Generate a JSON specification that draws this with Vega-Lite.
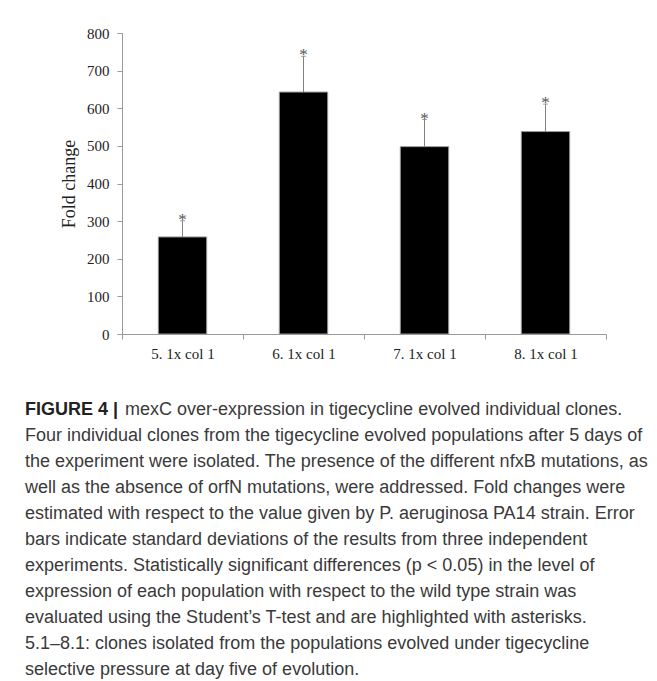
{
  "$schema": "https://vega.github.io/schema/vega-lite/v6.json",
  "width": 484,
  "height": 301,
  "autosize": {"type": "none"},
  "padding": {"left": 122, "top": 33, "right": 51, "bottom": 347},
  "background": "white",
  "data": {
    "values": [
      {"clone": "5. 1x col 1", "fold": 258, "upper": 301, "sig": "*"},
      {"clone": "6. 1x col 1", "fold": 643, "upper": 738, "sig": "*"},
      {"clone": "7. 1x col 1", "fold": 498, "upper": 570, "sig": "*"},
      {"clone": "8. 1x col 1", "fold": 538, "upper": 611, "sig": "*"}
    ]
  },
  "encoding": {
    "x": {
      "field": "clone",
      "type": "nominal",
      "sort": null,
      "scale": {"paddingInner": 0, "paddingOuter": 0},
      "axis": {
        "title": null,
        "labelAngle": 0,
        "tickBand": "extent",
        "tickSize": 5,
        "labelPadding": 7,
        "labelFont": "Liberation Serif",
        "labelFontSize": 15,
        "labelColor": "#222",
        "domainColor": "#999",
        "tickColor": "#999"
      }
    }
  },
  "layer": [
    {
      "mark": {"type": "bar", "width": {"band": 0.4}, "fill": "#000", "stroke": "#999", "strokeWidth": 1},
      "encoding": {
        "y": {
          "field": "fold",
          "type": "quantitative",
          "scale": {"domain": [0, 800], "nice": false},
          "axis": {"title": "Fold change", "values": [0, 100, 200, 300, 400, 500, 600, 700, 800]}
        }
      }
    },
    {
      "mark": {"type": "rule", "color": "#808080", "strokeWidth": 1},
      "encoding": {
        "y": {
          "field": "fold",
          "type": "quantitative",
          "scale": {"domain": [0, 800], "nice": false},
          "axis": {"title": "Fold change", "values": [0, 100, 200, 300, 400, 500, 600, 700, 800]}
        },
        "y2": {"field": "upper"}
      }
    },
    {
      "mark": {"type": "tick", "color": "#808080", "size": 5, "thickness": 1},
      "encoding": {
        "y": {
          "field": "upper",
          "type": "quantitative",
          "scale": {"domain": [0, 800], "nice": false},
          "axis": {"title": "Fold change", "values": [0, 100, 200, 300, 400, 500, 600, 700, 800]}
        }
      }
    },
    {
      "mark": {"type": "text", "font": "Liberation Serif", "fontSize": 17, "color": "#555", "baseline": "alphabetic", "dy": 4},
      "encoding": {
        "y": {
          "field": "upper",
          "type": "quantitative",
          "scale": {"domain": [0, 800], "nice": false},
          "axis": {"title": "Fold change", "values": [0, 100, 200, 300, 400, 500, 600, 700, 800]}
        },
        "text": {"field": "sig"}
      }
    }
  ],
  "title": {
    "text": "FIGURE 4 |",
    "subtitle": [
      "\u200b\u00a0\u00a0\u00a0\u00a0\u00a0\u00a0\u00a0\u00a0\u00a0\u00a0\u00a0\u00a0\u00a0\u00a0\u00a0\u00a0\u00a0\u00a0\u00a0\u00a0mexC over-expression in tigecycline evolved individual clones.",
      "Four individual clones from the tigecycline evolved populations after 5 days of",
      "the experiment were isolated. The presence of the different nfxB mutations, as",
      "well as the absence of orfN mutations, were addressed. Fold changes were",
      "estimated with respect to the value given by P. aeruginosa PA14 strain. Error",
      "bars indicate standard deviations of the results from three independent",
      "experiments. Statistically significant differences (p < 0.05) in the level of",
      "expression of each population with respect to the wild type strain was",
      "evaluated using the Student\u2019s T-test and are highlighted with asterisks.",
      "5.1\u20138.1: clones isolated from the populations evolved under tigecycline",
      "selective pressure at day five of evolution."
    ],
    "orient": "bottom",
    "anchor": "start",
    "frame": "group",
    "dx": -97,
    "offset": 40,
    "font": "Liberation Sans",
    "fontSize": 18,
    "fontWeight": "bold",
    "color": "#222",
    "subtitleFont": "Liberation Sans",
    "subtitleFontSize": 18,
    "subtitleFontWeight": "normal",
    "subtitleColor": "#3a3a3a",
    "subtitleLineHeight": 26,
    "subtitlePadding": -18
  },
  "config": {
    "view": {"stroke": null},
    "axisY": {
      "grid": false,
      "labelOverlap": false,
      "tickSize": 5,
      "labelPadding": 8,
      "labelFont": "Liberation Serif",
      "labelFontSize": 15,
      "labelColor": "#222",
      "titleFont": "Liberation Serif",
      "titleFontSize": 18,
      "titleFontWeight": "normal",
      "titleColor": "#222",
      "titlePadding": 8,
      "domainColor": "#999",
      "tickColor": "#999"
    }
  }
}
